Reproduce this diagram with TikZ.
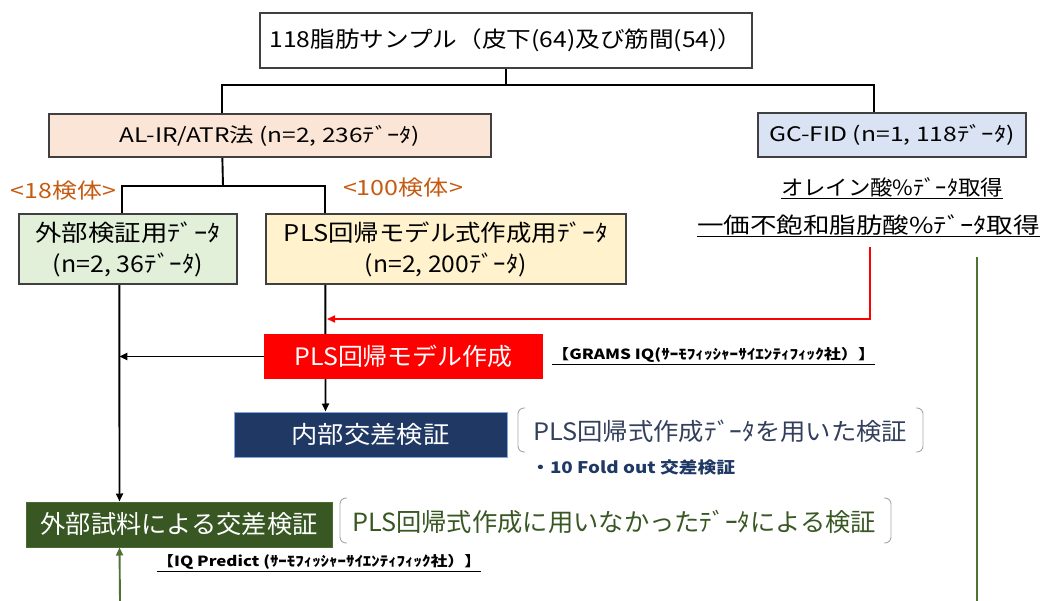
\documentclass[tikz,border=0pt]{standalone}
\usepackage{fontspec}
\setmainfont{Noto Sans CJK JP}
\usepackage{graphicx}
\usetikzlibrary{backgrounds,arrows.meta}
\definecolor{peach}{HTML}{FBE5D6}
\definecolor{lblue}{HTML}{DAE3F3}
\definecolor{lgreen}{HTML}{E2F0D9}
\definecolor{lyellow}{HTML}{FFF2CC}
\definecolor{boxgray}{HTML}{404040}
\definecolor{navyfill}{HTML}{203864}
\definecolor{navyedge}{HTML}{7FA7DA}
\definecolor{dgreen}{HTML}{385723}
\definecolor{dgreenedge}{HTML}{4A6B30}
\definecolor{orangetxt}{HTML}{C55A11}
\definecolor{navytxt}{HTML}{333F5C}
\definecolor{navybold}{HTML}{1F3864}
\definecolor{gline}{HTML}{507335}
\definecolor{brkgray}{HTML}{A6A6A6}
\newcommand\tx[3]{{\fontsize{#1}{#1}\selectfont\resizebox{#2pt}{\height}{#3}}}
\tikzset{
  box/.style={draw=boxgray, line width=1.3pt, inner sep=0pt, align=center},
  lbl/.style={inner sep=0pt},
  conn/.style={line width=1.9pt, black},
  arr/.style={conn, -{Triangle[length=8pt,width=7pt]}},
  brk/.style={draw=brkgray, line width=0.9pt, rounded corners=6pt},
}
\begin{document}
\begin{tikzpicture}[x=1pt,y=-1pt]
\useasboundingbox (0,0) rectangle (1044,601);
% boxes
\node[box, fill=white, minimum width=492pt, minimum height=55pt] (top) at (506,40.5)
  {\tx{22}{473}{118脂肪サンプル（皮下(64)及び筋間(54)）}};
\node[box, fill=peach, minimum width=442pt, minimum height=43pt] (alir) at (270,135.5)
  {\tx{20}{300}{AL-IR/ATR法 (n=2, 236ﾃﾞｰﾀ)}};
\node[box, fill=lblue, minimum width=268pt, minimum height=44pt] (gcfid) at (892,135)
  {\tx{20}{246}{GC-FID (n=1, 118ﾃﾞｰﾀ)}};
\node[lbl, text=orangetxt] (l18) at (63.5,191) {\tx{21}{105}{<18検体>}};
\node[lbl, text=orangetxt] (l100) at (403,188) {\tx{21}{120}{<100検体>}};
\node[box, fill=lgreen, minimum width=218pt, minimum height=70pt, font=\fontsize{24}{31}\selectfont] (extdata) at (128,249)
  {\tx{23}{185}{外部検証用ﾃﾞｰﾀ}\\\tx{23}{150}{(n=2, 36ﾃﾞｰﾀ)}};
\node[box, fill=lyellow, minimum width=360pt, minimum height=70pt, font=\fontsize{24}{31}\selectfont] (plsdata) at (446,249)
  {\tx{23}{324}{PLS回帰モデル式作成用ﾃﾞｰﾀ}\\\tx{23}{162}{(n=2, 200ﾃﾞｰﾀ)}};
\node[lbl] (oleic) at (892,188) {\tx{21}{222}{\underline{オレイン酸\%ﾃﾞｰﾀ取得}}};
\node[lbl] (mufa) at (868.5,226) {\tx{22}{343}{\underline{一価不飽和脂肪酸\%ﾃﾞｰﾀ取得}}};
\node[fill=red, inner sep=0pt, minimum width=279pt, minimum height=45pt, text=white] (plsmodel) at (403.5,356.5)
  {\tx{24}{218}{PLS回帰モデル作成}};
\node[lbl, anchor=west] (grams) at (552,356)
  {\tx{14}{323}{\bfseries\underline{【GRAMS IQ(ｻｰﾓﾌｨｯｼｬｰｻｲｴﾝﾃｨﾌｨｯｸ社）】}}};
\node[fill=navyfill, draw=navyedge, line width=1pt, inner sep=0pt, minimum width=273pt, minimum height=45pt, text=white] (inner) at (370.5,434.5)
  {\tx{24}{158}{内部交差検証}};
\node[lbl, anchor=west, text=navytxt] (innerdesc) at (533,431)
  {\tx{24}{374}{PLS回帰式作成ﾃﾞｰﾀを用いた検証}};
\node[lbl, anchor=west, text=navybold] (fold) at (531,467)
  {\tx{16}{204}{\bfseries ・10 Fold out 交差検証}};
\node[fill=dgreen, draw=dgreenedge, line width=1pt, inner sep=0pt, minimum width=306pt, minimum height=45pt, text=white] (extcv) at (179,524.5)
  {\tx{25}{277}{外部試料による交差検証}};
\node[lbl, anchor=west, text=dgreen] (extdesc) at (352,522)
  {\tx{25}{524}{PLS回帰式作成に用いなかったﾃﾞｰﾀによる検証}};
\node[lbl, anchor=west] (iqp) at (157,563)
  {\tx{14}{324}{\bfseries\underline{【IQ Predict (ｻｰﾓﾌｨｯｼｬｰｻｲｴﾝﾃｨﾌｨｯｸ社）】}}};
% brackets
\draw[brk] (525,408) -- (518,408) -- (518,452) -- (525,452);
\draw[brk] (916,408) -- (923,408) -- (923,452) -- (916,452);
\draw[brk] (347,498) -- (340,498) -- (340,543) -- (347,543);
\draw[brk] (884,498) -- (891,498) -- (891,543) -- (884,543);
% coordinates
\coordinate (split1) at (506,85);
\coordinate (alirIn) at ([xshift=174pt]alir.north west);
\coordinate (gcIn) at ([xshift=117pt]gcfid.north west);
\coordinate (alirOut) at ([xshift=174pt]alir.south west);
\coordinate (split2) at (223,186);
\coordinate (extIn) at ([xshift=104pt]extdata.north west);
\coordinate (plsIn) at ([xshift=60pt]plsdata.north west);
\coordinate (extOut) at ([xshift=101pt]extdata.south west);
\coordinate (plsOut) at ([xshift=60pt]plsdata.south west);
\coordinate (innerIn) at ([xshift=92pt]inner.north west);
\coordinate (extcvIn) at ([xshift=94pt]extcv.north west);
\coordinate (extcvBot) at ([xshift=94pt]extcv.south west);
\coordinate (redStart) at (870,247);
\coordinate (redEnd) at (327,319);
\coordinate (gStart) at (977,257);
\coordinate (gEnd) at (977,601);
\coordinate (gLeft) at (120,601);
\begin{scope}[on background layer]
\draw[conn] (top.south) -- (split1);
\draw[conn] (alirIn) |- (split1) -| (gcIn);
\draw[conn] (alirOut) -- (split2);
\draw[conn] (extIn) |- (split2) -| (plsIn);
\draw[arr] (extOut) -- (extcvIn);
\draw[arr] (plsOut) -- (innerIn);
\draw[arr] (plsmodel.west) -- (plsmodel.west -| extOut);
\draw[arr, red, line width=1.6pt] (redStart) |- (redEnd);
\draw[conn, gline] (gStart) -- (gEnd);
\draw[arr, gline] (gLeft) -- (extcvBot);
\end{scope}
\end{tikzpicture}
\end{document}
